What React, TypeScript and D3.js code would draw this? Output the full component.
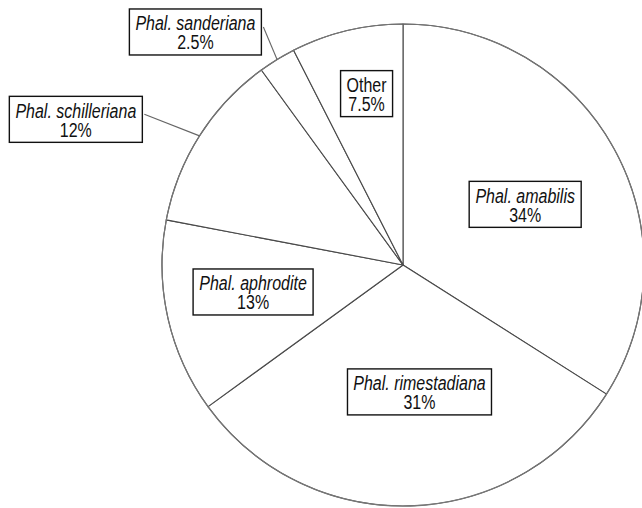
import React, { useEffect, useRef } from 'react';
import * as d3 from 'd3';

// species share of the collection (percent), clockwise from 12 o'clock
const species = ['Phal. amabilis', 'Phal. rimestadiana', 'Phal. aphrodite', 'Phal. schilleriana', 'Phal. sanderiana', 'Other'];
const shares = [34, 31, 13, 12, 2.5, 7.5];
const shareLabels = ['34%', '31%', '13%', '12%', '2.5%', '7.5%'];
const italicName = [true, true, true, true, true, false];

// label placement: angle nudge (deg) from the slice middle, distance as a fraction of the radius
const labelNudge = [2.4, -5.6, 2.4, -8.4, -10.2, 1.5];
const labelDist = [0.566, 0.531, 0.632, 1.486, 1.295, 0.727];
const outside = [false, false, false, true, true, false];

const W = 642;
const H = 508;
const CX = 403;
const CY = 265;
const R = 241;
const BOX_H = 46;
const STRETCH = 1.3; // the lettering in the original is taller than it is wide
const LINE_GAP = 19;

function App() {
    const ref = useRef<SVGSVGElement>(null);

    useEffect(() => {
        const svg = d3.select(ref.current);
        svg.selectAll('*').remove();

        const rows = species.map((name, i) => ({
            name,
            value: shares[i],
            label: shareLabels[i],
            italic: italicName[i],
            nudge: labelNudge[i],
            dist: labelDist[i],
            outside: outside[i]
        }));

        const pie = d3.pie<any>().sort(null).value(d => d.value).startAngle(0).endAngle(Math.PI * 2);
        const arcs = pie(rows);
        const arc = d3.arc<any>().innerRadius(0).outerRadius(R);

        const g = svg.append('g').attr('transform', `translate(${CX},${CY})`);

        // slices
        g.selectAll('path.slice')
            .data(arcs)
            .enter()
            .append('path')
            .attr('class', 'slice')
            .attr('d', arc)
            .attr('fill', '#fff')
            .attr('stroke', '#4a4a4a')
            .attr('stroke-width', 1.1)
            .attr('stroke-linejoin', 'round');

        // outer rim is a bit lighter in the original
        g.append('circle')
            .attr('r', R)
            .attr('fill', 'none')
            .attr('stroke', '#777')
            .attr('stroke-width', 1.2);

        const polar = (angle: number, r: number) => [Math.sin(angle) * r, -Math.cos(angle) * r];

        arcs.forEach(a => {
            const d = a.data;
            const mid = (a.startAngle + a.endAngle) / 2;
            const [bx, by] = polar(mid + (d.nudge * Math.PI) / 180, d.dist * R);

            const lg = g.append('g').attr('transform', `translate(${bx},${by})`);

            const rect = lg.append('rect')
                .attr('fill', '#fff')
                .attr('stroke', '#111')
                .attr('stroke-width', 1.4);

            // both lines in one text element, stretched vertically
            const t = lg.append('text')
                .attr('transform', `translate(0,${-BOX_H / 2 + 21.5}) scale(1,${STRETCH})`)
                .attr('text-anchor', 'middle')
                .attr('font-family', '"Liberation Sans", Arial, sans-serif')
                .attr('font-size', 16)
                .attr('fill', '#111');

            const s1 = t.append('tspan')
                .attr('x', 0)
                .attr('y', 0)
                .attr('font-style', d.italic ? 'italic' : 'normal')
                .text(d.name);
            const s2 = t.append('tspan')
                .attr('x', 0)
                .attr('y', LINE_GAP / STRETCH)
                .text(d.label);

            const maxW = Math.max(
                (s1.node() as SVGTSpanElement).getComputedTextLength(),
                (s2.node() as SVGTSpanElement).getComputedTextLength()
            );

            const bw = Math.round(maxW + 12);
            rect.attr('x', -bw / 2)
                .attr('y', -BOX_H / 2)
                .attr('width', bw)
                .attr('height', BOX_H);

            if (d.outside) {
                const [ax, ay] = polar(mid, R);
                g.insert('line', 'g')
                    .attr('x1', ax)
                    .attr('y1', ay)
                    .attr('x2', bx + bw / 2 + 2)
                    .attr('y2', by - 5)
                    .attr('stroke', '#666')
                    .attr('stroke-width', 1.1);
            }
        });
    }, []);

    return (
        <svg
            ref={ref}
            width={W}
            height={H}
            style={{ position: 'absolute', left: 0, top: 0, background: '#fff' }}
        />
    );
}

export default App;
